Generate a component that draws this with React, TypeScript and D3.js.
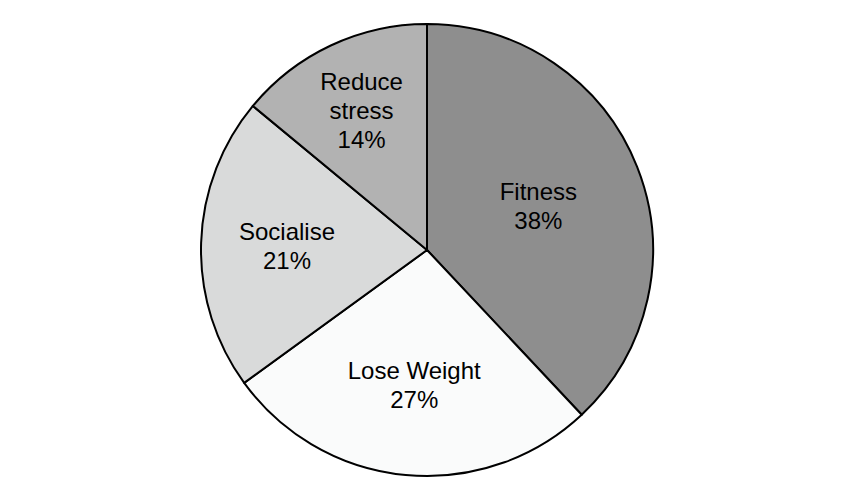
import { useEffect, useRef } from 'react';
import * as d3 from 'd3';

const categories = ['Fitness', 'Lose Weight', 'Socialise', 'Reduce stress'];
const percents = [38, 27, 21, 14];
const labelLines = [['Fitness'], ['Lose Weight'], ['Socialise'], ['Reduce', 'stress']];
const colors = ['#8e8e8e', '#fafbfb', '#d9dada', '#b2b2b2'];

// label distance from centre, as a share of the radius (best-fit style placement)
const labelRadius: Record<string, number> = {
  Fitness: 0.53,
  'Lose Weight': 0.6,
  Socialise: 0.62,
  'Reduce stress': 0.68,
};

export default function App() {
  const svgRef = useRef<SVGSVGElement>(null);

  useEffect(() => {
    if (!svgRef.current) return;
    const width = 854;
    const height = 502;
    const cx = 427;
    const cy = 250;
    const radius = 226;

    const svg = d3.select(svgRef.current);
    svg.selectAll('*').remove();
    svg.attr('width', width).attr('height', height).attr('viewBox', `0 0 ${width} ${height}`);

    svg.append('rect').attr('width', width).attr('height', height).attr('fill', '#ffffff');

    const data = categories.map((name, i) => ({ name, value: percents[i], i }));
    const pie = d3.pie<any>().value(d => d.value).sort(null);
    const arcs = pie(data);
    const arc = d3.arc<any>().innerRadius(0).outerRadius(radius);

    const g = svg.append('g').attr('transform', `translate(${cx},${cy})`);

    g.selectAll('path')
      .data(arcs)
      .enter()
      .append('path')
      .attr('d', arc)
      .attr('fill', d => colors[d.data.i])
      .attr('stroke', '#000')
      .attr('stroke-width', 2)
      .attr('stroke-linejoin', 'round');

    const fontSize = 24;
    const lineH = 29;

    arcs.forEach(d => {
      const r = radius * labelRadius[d.data.name];
      const labelArc = d3.arc<any>().innerRadius(r).outerRadius(r);
      const [lx, ly] = labelArc.centroid(d);
      const lines = [...labelLines[d.data.i], `${d.data.value}%`];
      const top = ly - ((lines.length - 1) * lineH) / 2;
      const text = g
        .append('text')
        .attr('text-anchor', 'middle')
        .attr('font-family', '"Liberation Sans", Arial, sans-serif')
        .attr('font-size', fontSize)
        .attr('fill', '#000');
      lines.forEach((line, k) => {
        text
          .append('tspan')
          .attr('x', lx)
          .attr('y', top + k * lineH)
          .attr('dy', '0.35em')
          .text(line);
      });
    });
  }, []);

  return (
    <div style={{ position: 'absolute', left: 0, top: 0 }}>
      <svg ref={svgRef} style={{ display: 'block' }} />
    </div>
  );
}
